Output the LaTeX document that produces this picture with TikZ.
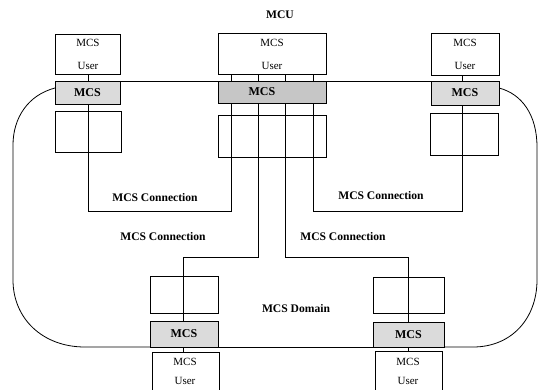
\documentclass[tikz,border=0pt]{standalone}
\usepackage{fontspec}
\setmainfont{Liberation Serif}
\usetikzlibrary{calc}
\tikzset{
  ubox/.style={draw, fill=white, line width=0.8pt, inner sep=0pt},
  gbox/.style={draw, fill=gray!28, line width=0.9pt, inner sep=0pt, font=\bfseries\fontsize{12}{12}\selectfont},
  ebox/.style={draw, line width=0.8pt, inner sep=0pt},
  conn/.style={line width=0.8pt},
  lbl/.style={font=\bfseries\fontsize{11.6}{12}\selectfont, inner sep=0pt},
  utxt/.style={font=\fontsize{11}{11}\selectfont, inner sep=0pt},
}
\begin{document}
\begin{tikzpicture}[x=1pt,y=-1pt]
\clip (0,0) rectangle (541,389);
\fill[white] (0,0) rectangle (541,389);

% user boxes
\node[ubox, minimum width=65pt, minimum height=40pt] (Luser) at (87.5,54) {};
\node[ubox, minimum width=108pt, minimum height=41pt] (Muser) at (272,53.5) {};
\node[ubox, minimum width=68pt, minimum height=42pt] (Ruser) at (465,54) {};
\node[ubox, minimum width=67pt, minimum height=48pt] (BLuser) at (185.5,376) {};
\node[ubox, minimum width=67pt, minimum height=49pt] (BRuser) at (408.5,375.5) {};

% connection end coordinates
\coordinate (l0) at (88,74);
\coordinate (r0) at (462,75);
\coordinate (m1) at (231,74);
\coordinate (m2) at (258,74);
\coordinate (m3) at (285,74);
\coordinate (m4) at (313,74);
\coordinate (b1) at (183,352);
\coordinate (b2) at (408,351);
\coordinate (j1) at (88,211);
\coordinate (j2) at (462,211);
\coordinate (j3) at (183,257);
\coordinate (j4) at (408,257);

% MCS connections
\draw[conn] (l0) -- (j1) -| (m1);
\draw[conn] (r0) -- (j2) -| (m4);
\draw[conn] (m2) |- (j3) -- (b1);
\draw[conn] (m3) |- (j4) -- (b2);

% domain outline
\draw[conn] (55,88) .. controls (28,95) and (13,118) .. (13,145) -- (13,280)
  .. controls (13,318) and (42,347) .. (85,347) -- (150,347);
\draw[conn] (218,347) -- (373,347);
\draw[conn] (444,347) -- (473,347) .. controls (512,347) and (537,318) .. (537,280)
  -- (537,147) .. controls (537,115) and (522,94) .. (499,88);
\draw[conn] (120,81) -- (431,81);

% MCS layer boxes
\node[gbox, minimum width=65pt, minimum height=23pt] (Lmcs) at (87.5,92.5) {MCS};
\node[gbox, fill=gray!45, minimum width=108pt, minimum height=22pt] (Mmcs) at (272,92) {};
\node[gbox, minimum width=68pt, minimum height=24pt] (Rmcs) at (465,93) {MCS};
\node[gbox, minimum width=68pt, minimum height=26pt] (BLmcs) at (184,334) {MCS};
\node[gbox, minimum width=71pt, minimum height=25pt] (BRmcs) at (408.5,334.5) {MCS};
\node[lbl, font=\bfseries\fontsize{12}{12}\selectfont] (Mmcstxt) at (262,92) {MCS};

% empty boxes
\node[ebox, minimum width=66pt, minimum height=41pt] (Lbox) at (88,131.5) {};
\node[ebox, minimum width=108pt, minimum height=42pt] (Mbox) at (272,136) {};
\node[ebox, minimum width=68pt, minimum height=42pt] (Rbox) at (464,134) {};
\node[ebox, minimum width=68pt, minimum height=37pt] (BLbox) at (184,294.5) {};
\node[ebox, minimum width=71pt, minimum height=36pt] (BRbox) at (408.5,295) {};

% user texts
\node[utxt] (t1a) at (88,43) {MCS};
\node[utxt] (t1b) at (88,66) {User};
\node[utxt] (t2a) at (272,43) {MCS};
\node[utxt] (t2b) at (272,66) {User};
\node[utxt] (t3a) at (465,43) {MCS};
\node[utxt] (t3b) at (465,66) {User};
\node[utxt] (t4a) at (185,362) {MCS};
\node[utxt] (t4b) at (185,381) {User};
\node[utxt] (t5a) at (408,362) {MCS};
\node[utxt] (t5b) at (408,381) {User};

% labels
\node[lbl] (mcu) at (280,15) {MCU};
\node[lbl] (c1) at (155,198) {MCS Connection};
\node[lbl] (c2) at (381,196) {MCS Connection};
\node[lbl] (c3) at (163,237) {MCS Connection};
\node[lbl] (c4) at (343,237) {MCS Connection};
\node[lbl] (dom) at (296,309) {MCS Domain};
\end{tikzpicture}
\end{document}
